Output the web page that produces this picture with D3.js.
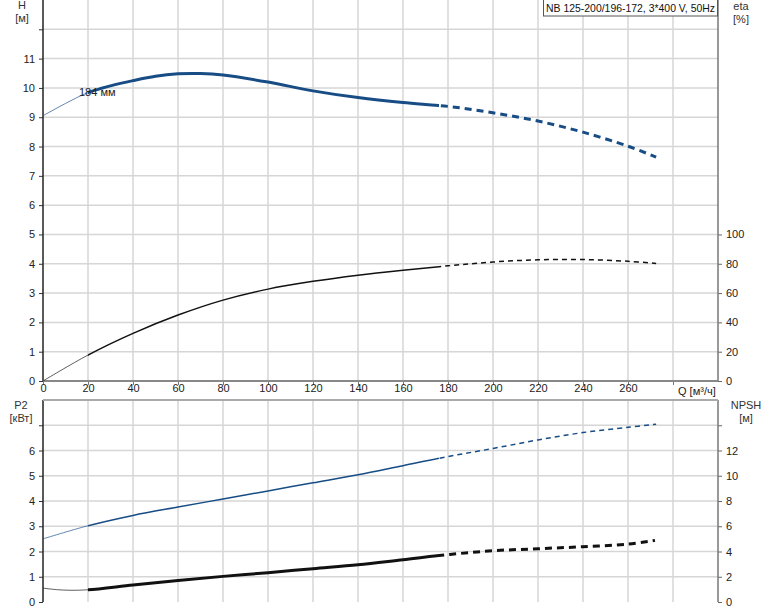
<!DOCTYPE html>
<html><head><meta charset="utf-8">
<script src="https://cdn.jsdelivr.net/npm/d3@7"></script>
<style>body{margin:0;background:#fff}svg{display:block;font-family:"Liberation Sans",Arial,sans-serif}</style>
</head><body><svg id="c" width="774" height="611"></svg>
<script>
const title = "NB 125-200/196-172, 3*400 V, 50Hz";
const qTicks = [0,20,40,60,80,100,120,140,160,180,200,220,240,260];
const hTicks = [0,1,2,3,4,5,6,7,8,9,10,11];
const etaTicks = [0,20,40,60,80,100];
const p2Ticks = [0,1,2,3,4,5,6];
const npshTicks = [0,2,4,6,8,10,12];
// H curve [Q, H]
const hQ   = [0, 10, 20, 30, 40, 50, 60, 70, 80, 100, 120, 140, 160, 180, 200, 220, 240, 260, 272.5];
const hVal = [9.05, 9.47, 9.84, 10.07, 10.25, 10.4, 10.48, 10.49, 10.44, 10.2, 9.9, 9.67, 9.5, 9.37, 9.15, 8.87, 8.49, 8.01, 7.64];
// eta curve [Q, %]
const etaQ   = [0, 20, 40, 60, 80, 100, 120, 140, 160, 180, 200, 220, 240, 260, 272.5];
const etaVal = [0, 17.7, 32.5, 45, 55.2, 62.7, 68, 72.2, 75.6, 78.6, 81.2, 82.7, 82.9, 81.7, 80.2];
// P2 curve [Q, kW]
const p2Q   = [0, 20, 40, 60, 80, 100, 120, 140, 160, 180, 200, 220, 240, 260, 272.5];
const p2Val = [2.5, 3.02, 3.43, 3.76, 4.08, 4.4, 4.72, 5.04, 5.4, 5.76, 6.08, 6.42, 6.71, 6.92, 7.04];
// NPSH curve [Q, m]
const npQ   = [0, 6, 12, 20, 40, 60, 80, 100, 120, 140, 160, 180, 200, 220, 240, 260, 272];
const npVal = [1.1, 0.98, 0.93, 0.97, 1.35, 1.71, 2.03, 2.32, 2.64, 2.95, 3.35, 3.75, 4.06, 4.22, 4.38, 4.59, 4.88];
const qStart = 20, qDash = 176;

const svg = d3.select("#c");
const L = 43, R = 718;
const x = d3.scaleLinear().domain([0,300]).range([L,R]);
const yH = d3.scaleLinear().domain([0,13]).range([381,0]);
const yEta = d3.scaleLinear().domain([0,260]).range([381,0]);
const yP = d3.scaleLinear().domain([0,8]).range([602,400]);
const yN = d3.scaleLinear().domain([0,16]).range([602,400]);
const gridC = "#d6d6d6";

const defs = svg.append("defs");
[["cA",0,qStart],["cB",qStart,qDash],["cC",qDash,300]].forEach(([id,a,b])=>{
  defs.append("clipPath").attr("id",id).append("rect").attr("x",x(a)).attr("y",-10).attr("width",x(b)-x(a)).attr("height",640);
});

function grid(y, vals, top, bot){
  const g = svg.append("g");
  d3.range(20,300,20).forEach(q=>g.append("line").attr("x1",x(q)).attr("x2",x(q)).attr("y1",top).attr("y2",bot).attr("stroke",gridC).attr("stroke-width",1.5));
  vals.forEach(v=>g.append("line").attr("x1",L).attr("x2",R).attr("y1",y(v)).attr("y2",y(v)).attr("stroke",gridC).attr("stroke-width",1.5));
}
grid(yH, d3.range(1,13), 0, 381);
grid(yP, d3.range(1,8), 400, 602);

function styleText(g){ g.selectAll("text").attr("font-size",11).attr("fill","#222").attr("font-family","Liberation Sans, Arial, sans-serif"); }
function leftAxis(y, ticks, extra, top, bot){
  const g = svg.append("g").attr("transform",`translate(${L},0)`)
    .call(d3.axisLeft(y).tickValues(ticks.concat(extra)).tickSize(4).tickPadding(4)
      .tickFormat(d=>ticks.includes(d)?d:""));
  g.select(".domain").remove();
  g.selectAll("line").attr("stroke","#333");
  styleText(g);
  svg.append("line").attr("x1",L).attr("x2",L).attr("y1",top).attr("y2",bot).attr("stroke","#222").attr("stroke-width",1.5);
}
function rightAxis(y, ticks, extra, top, bot){
  const g = svg.append("g").attr("transform",`translate(${R},0)`)
    .call(d3.axisRight(y).tickValues(ticks.concat(extra)).tickSize(4).tickPadding(4)
      .tickFormat(d=>ticks.includes(d)?d:""));
  g.select(".domain").remove();
  g.selectAll("line").attr("stroke","#666");
  styleText(g);
  svg.append("line").attr("x1",R).attr("x2",R).attr("y1",top).attr("y2",bot).attr("stroke","#777").attr("stroke-width",1.5);
}
leftAxis(yH, hTicks, [12], 0, 381);
rightAxis(yEta, etaTicks, [], 0, 381);
leftAxis(yP, p2Ticks, [7], 400, 602);
rightAxis(yN, npshTicks, [14], 400, 602);

const gx = svg.append("g").attr("transform","translate(0,381)")
  .call(d3.axisBottom(x).tickValues(qTicks.concat([280])).tickSize(4).tickPadding(4).tickFormat(d=>qTicks.includes(d)?d:""));
gx.select(".domain").remove();
gx.selectAll("line").attr("stroke","#777");
styleText(gx);
gx.selectAll("text").attr("dy","0.3em");
svg.append("line").attr("x1",L).attr("x2",R).attr("y1",381).attr("y2",381).attr("stroke","#888").attr("stroke-width",2);
svg.append("line").attr("x1",L).attr("x2",R).attr("y1",400).attr("y2",400).attr("stroke","#aaa").attr("stroke-width",2);
svg.append("text").attr("x",678).attr("y",395).attr("font-size",11).attr("fill","#222").text("Q [м³/ч]");

function drawCurve(qs, vs, y, color, w, dash){
  const pts = qs.map((q,i)=>[q,vs[i]]);
  const d = d3.line().x(p=>x(p[0])).y(p=>y(p[1])).curve(d3.curveCatmullRom.alpha(0.5))(pts);
  svg.append("path").attr("d",d).attr("clip-path","url(#cA)").attr("fill","none").attr("stroke",color).attr("stroke-width",0.9).attr("opacity",0.75);
  svg.append("path").attr("d",d).attr("clip-path","url(#cB)").attr("fill","none").attr("stroke",color).attr("stroke-width",w);
  svg.append("path").attr("d",d).attr("clip-path","url(#cC)").attr("fill","none").attr("stroke",color).attr("stroke-width",w).attr("stroke-dasharray",dash);
}
const blue = "#174c85";
drawCurve(hQ, hVal, yH, blue, 3, "7,5");
drawCurve(etaQ, etaVal, yEta, "#111", 1.5, "5,4");
drawCurve(p2Q, p2Val, yP, blue, 1.5, "5,4");
drawCurve(npQ, npVal, yN, "#111", 3, "7,5");

svg.append("text").attr("x",79).attr("y",96).attr("font-size",11).attr("fill","#222").text("184 мм");
function unitLabel(cx, y1, a, b){
  svg.append("text").attr("x",cx).attr("y",y1).attr("text-anchor","middle").attr("font-size",11).attr("fill","#333").text(a);
  svg.append("text").attr("x",cx).attr("y",y1+13).attr("text-anchor","middle").attr("font-size",11).attr("fill","#333").text(b);
}
unitLabel(22, 9, "H", "[м]");
unitLabel(741, 10, "eta", "[%]");
unitLabel(21, 409, "P2", "[кВт]");
unitLabel(746, 409, "NPSH", "[м]");

svg.append("rect").attr("x",543.5).attr("y",-1).attr("width",174).attr("height",17).attr("fill","#fff").attr("stroke","#555");
svg.append("text").attr("x",546).attr("y",12).attr("font-size",11).attr("fill","#111").attr("textLength",169).attr("lengthAdjust","spacingAndGlyphs").text(title);
</script></body></html>
